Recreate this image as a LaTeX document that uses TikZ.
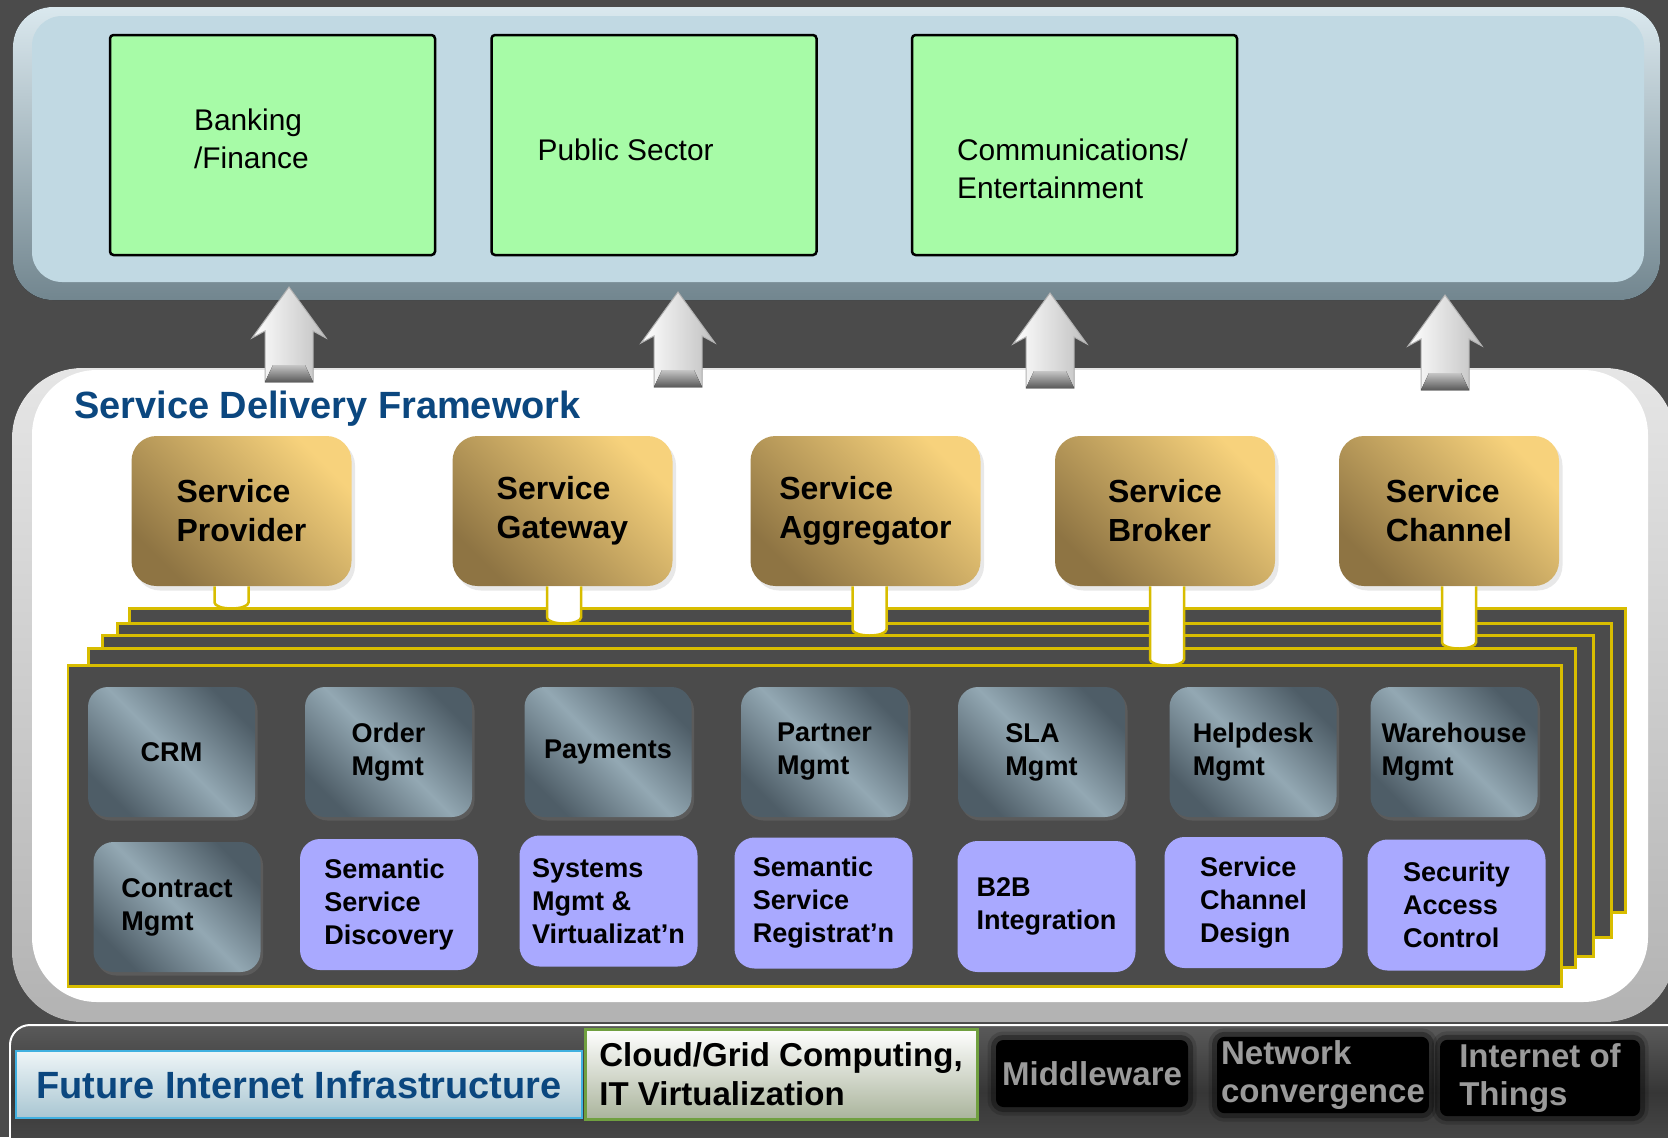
\documentclass[tikz,border=0pt]{standalone}
\usepackage{fontspec}
\setmainfont{Liberation Sans}
\usetikzlibrary{positioning,calc,shadows}

\definecolor{BackGray}{HTML}{4B4B4B}
\definecolor{PanelBlue}{HTML}{C1D9E3}
\definecolor{PanelEdge}{HTML}{72868F}
\definecolor{SectorGreen}{HTML}{A7FBA7}
\definecolor{GoldLight}{HTML}{F7D27C}
\definecolor{GoldDark}{HTML}{8E7443}
\definecolor{SteelDark}{HTML}{4E5D67}
\definecolor{SteelLight}{HTML}{93A8B3}
\definecolor{LavenderBox}{HTML}{A9A9FF}
\definecolor{LayerYellow}{HTML}{D8BD00}
\definecolor{TitleBlue}{HTML}{0B477F}
\definecolor{InfraCyan}{HTML}{40B0E0}
\definecolor{InfraLight}{HTML}{EEF5F7}
\definecolor{InfraDark}{HTML}{A9C6D2}
\definecolor{CloudGreen}{HTML}{70A040}
\definecolor{CloudGray}{HTML}{AAB49C}
\definecolor{BarTop}{HTML}{5A5A5A}
\definecolor{BarMid}{HTML}{363636}
\definecolor{BarBottom}{HTML}{4E4E4E}
\definecolor{LabelGray}{HTML}{9A9A9A}

\begin{document}
\begin{tikzpicture}[>=latex,
    sectorbox/.style={draw, line width=0.05cm, fill=SectorGreen, rounded corners=2pt, minimum width=6.5cm, minimum height=4.4cm},
    sectortext/.style={right, inner sep=0pt, align=left, font=\fontsize{17}{21.6}\selectfont},
    servicebox/.style={rounded corners=0.5cm, top color=GoldLight, bottom color=GoldDark, shading angle=-45, minimum width=4.4cm, minimum height=3cm, align=left, font=\bfseries\fontsize{18.2}{22.2}\selectfont, drop shadow={opacity=0.18, shadow xshift=0.07cm, shadow yshift=-0.09cm}},
    steelbox/.style={rounded corners=0.4cm, top color=SteelDark, bottom color=SteelDark, middle color=SteelLight, shading angle=-45, minimum width=3.34cm, minimum height=2.6cm, align=left, font=\bfseries\fontsize{15.4}{18.8}\selectfont, drop shadow={opacity=0.3, shadow xshift=0.05cm, shadow yshift=-0.07cm}},
    lavbox/.style={rounded corners=0.4cm, fill=LavenderBox, minimum width=3.56cm, minimum height=2.62cm, align=left, font=\bfseries\fontsize{15.4}{18.8}\selectfont},
    stackplate/.style={draw=LayerYellow, line width=0.06cm, fill=BackGray},
    pipeline/.style={draw=LayerYellow, line width=0.05cm, fill=white},
    uparrow/.style={left color=white, right color=gray!50, draw=gray!60, line width=0.02cm},
    uparrowfoot/.style={top color=gray!45, bottom color=black!65},
    infrabox/.style={draw=InfraCyan, line width=0.05cm, top color=InfraLight, bottom color=InfraDark, minimum width=11.32cm, minimum height=1.34cm, text=TitleBlue, font=\bfseries\fontsize{21.6}{26}\selectfont},
    cloudbox/.style={draw=CloudGreen, line width=0.06cm, top color=white, bottom color=CloudGray, minimum width=7.84cm, minimum height=1.8cm, align=left, font=\bfseries\fontsize{18.8}{22.2}\selectfont},
    darkbox/.style={fill=black, rounded corners=0.15cm, minimum height=1.34cm, inner sep=0.08cm, align=left, text=LabelGray, font=\bfseries\fontsize{18.8}{21.3}\selectfont,
      preaction={draw=black, line width=0.34cm, opacity=0.15},
      preaction={draw=black, line width=0.2cm, opacity=0.3}}
  ]
    \useasboundingbox (0,0) rectangle (33.36,-22.74);
    \fill[BackGray] (0,0) rectangle (33.36,-22.74);
    \clip (0,0) rectangle (33.36,-22.74);

    %% Market panel
    \fill[top color=PanelBlue!60!white, bottom color=PanelEdge, rounded corners=0.8cm] (0.26,-0.14) rectangle (33.2,-6.0);
    \fill[PanelBlue, rounded corners=0.6cm] (0.64,-0.32) rectangle (32.88,-5.64);

    \node at (5.45,-2.9) [sectorbox] (bank) {};
    \node at (bank) [sectorbox, xshift=7.63cm] (pub) {};
    \node at (pub) [sectorbox, xshift=8.41cm] (com) {};
    \node at (bank.west) [sectortext, xshift=1.7cm, yshift=0.12cm] (banktext) {Banking\\/Finance};
    \node at (pub.west) [sectortext, xshift=0.94cm, yshift=-0.09cm] (pubtext) {Public Sector};
    \node at (com.west) [sectortext, xshift=0.92cm, yshift=-0.48cm] (comtext) {Communications/\\Entertainment};

    %% Service delivery panel
    \fill[top color=gray!20, bottom color=gray!60, rounded corners=1.4cm] (0.24,-7.36) rectangle (33.5,-20.44);
    \fill[white, rounded corners=1.3cm] (0.64,-7.4) rectangle (32.96,-20.04);

    %% Arrows up
    \foreach \x/\y in {5.78/-5.74, 13.56/-5.84, 21.0/-5.86, 28.9/-5.9} {
      \filldraw[uparrow] (\x,\y) -- ++(0.74,-1.02) -- ++(-0.26,0.14) -- ++(0,-1.02) -- ++(-0.96,0) -- ++(0,1.02) -- ++(-0.26,-0.14) -- cycle;
      \fill[uparrowfoot] (\x-0.48,\y-1.9) -- ++(0.96,0) -- ++(-0.16,0.34) -- ++(-0.64,0) -- cycle;
    }

    \node at (1.48,-8.36) [anchor=base west, inner sep=0pt, text=TitleBlue, font=\bfseries\fontsize{21.6}{26}\selectfont] (sdf) {Service Delivery Framework};

    \node at (4.83,-10.22) [servicebox] (prov) {Service\\Provider};
    \node at (prov) [servicebox, xshift=6.42cm] (gate) {Service\\Gateway};
    \node at (gate) [servicebox, xshift=6.06cm, minimum width=4.6cm] (aggr) {Service\\Aggregator};
    \node at (aggr) [servicebox, xshift=5.99cm] (brok) {Service\\Broker};
    \node at (brok) [servicebox, xshift=5.68cm] (chan) {Service\\Channel};

    %% Stacked plates
    \foreach \n/\x/\y/\w/\h in {layA/17.54/-15.2/29.92/6.08, layB/17.28/-15.6/29.88/6.28, layC/16.95/-15.91/29.82/6.42, layD/16.63/-16.15/29.74/6.38, layE/16.29/-16.51/29.86/6.42}
      \node at (\x,\y) [stackplate, minimum width=\w cm, minimum height=\h cm] (\n) {};

    %% Pipes
    \foreach \s/\l/\dx in {prov/layA/-0.2, gate/layB/0.03, aggr/layC/0.08, brok/layE/0.04, chan/layD/0.2}
      \filldraw[pipeline] ($(\s.south)+(\dx-0.34,0)$) -- ($(\s.south |- \l.north)+(\dx-0.34,0.08)$)
        arc[start angle=180, end angle=360, x radius=0.34cm, y radius=0.12cm] -- ($(\s.south)+(\dx+0.34,0)$);

    %% Modules
    \node at (3.43,-15.04) [steelbox] (crm) {CRM};
    \node at (crm) [steelbox, xshift=4.34cm] (order) {Order\\Mgmt};
    \node at (order) [steelbox, xshift=4.39cm] (pay) {Payments};
    \node at (pay) [steelbox, xshift=4.33cm] (partner) {Partner\\Mgmt};
    \node at (partner) [steelbox, xshift=4.34cm] (sla) {SLA\\Mgmt};
    \node at (sla) [steelbox, xshift=4.23cm] (help) {Helpdesk\\Mgmt};
    \node at (help) [steelbox, xshift=4.02cm] (ware) {Warehouse\\Mgmt};

    \node at (crm) [steelbox, xshift=0.11cm, yshift=-3.1cm] (contract) {Contract\\Mgmt};
    \node at (order) [lavbox, xshift=0.01cm, yshift=-3.05cm] (ssd) {Semantic\\Service\\Discovery};
    \node at (pay) [lavbox, xshift=0.01cm, yshift=-2.98cm] (sysm) {Systems\\Mgmt \&\\Virtualizat’n};
    \node at (partner) [lavbox, xshift=-0.02cm, yshift=-3.02cm] (ssr) {Semantic\\Service\\Registrat’n};
    \node at (sla) [lavbox, xshift=0.1cm, yshift=-3.09cm] (b2b) {B2B\\Integration};
    \node at (help) [lavbox, xshift=0.01cm, yshift=-3.01cm] (scd) {Service\\Channel\\Design};
    \node at (ware) [lavbox, xshift=0.05cm, yshift=-3.06cm] (sac) {Security\\Access\\Control};

    %% Infrastructure bar
    \filldraw[top color=BarTop, bottom color=BarBottom, middle color=BarMid, draw=white!75, line width=0.04cm, rounded corners=0.4cm] (0.2,-20.5) rectangle (34,-23.2);
    \node at (5.98,-21.69) [infrabox] (fii) {Future Internet Infrastructure};
    \node at (15.62,-21.48) [cloudbox] (cloud) {Cloud/Grid Computing,\\IT Virtualization};
    \node at (21.84,-21.47) [darkbox, minimum width=3.84cm] (mid) {Middleware};
    \node at (26.46,-21.5) [darkbox, minimum width=4.04cm] (net) {Network\\convergence};
    \node at (30.8,-21.56) [darkbox, minimum width=4.0cm] (iot) {Internet of\\Things};
  \end{tikzpicture}
\end{document}
